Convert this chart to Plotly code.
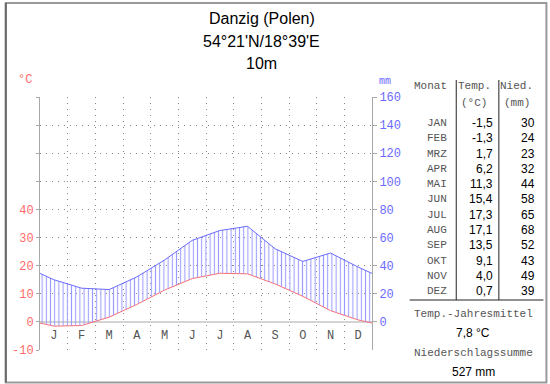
import plotly.graph_objects as go

# ---- data ----
months = ['J', 'F', 'M', 'A', 'M', 'J', 'J', 'A', 'S', 'O', 'N', 'D']
month_abbr = ['JAN', 'FEB', 'MRZ', 'APR', 'MAI', 'JUN', 'JUL', 'AUG', 'SEP', 'OKT', 'NOV', 'DEZ']
temp = [-1.5, -1.3, 1.7, 6.2, 11.3, 15.4, 17.3, 17.1, 13.5, 9.1, 4.0, 0.7]
precip = [30, 24, 23, 32, 44, 58, 65, 68, 52, 43, 49, 39]
temp_ticks = [-10, 0, 10, 20, 30, 40, 50, 60, 70, 80]
temp_ticktext = ['-10', '0', '10', '20', '30', '40', '', '', '', '']
precip_ticks = [0, 20, 40, 60, 80, 100, 120, 140, 160]
title_lines = ['Danzig (Polen)', "54°21'N/18°39'E", '10m']

W, H = 550, 384
L, R, T, B = 37, 372, 97, 350


def fx(x):
    return (x - L) / (R - L)


def fy(y):
    return (B - y) / (B - T)


# cyclic continuation (Dec before Jan, Jan after Dec), clipped by axis range
xc = [i + 0.5 for i in range(12)]
x_ext = [-0.5] + xc + [12.5]
temp_ext = [temp[-1]] + temp + [temp[0]]
precip_ext = [precip[-1]] + precip + [precip[0]]

RED = '#ff6b6b'
BLUE = '#6b6bff'
GRID = '#8a8a8a'
AX = '#a8a8a8'
MONO = 'Liberation Mono'
MONO_COL = '#555'

fig = go.Figure()

# hatch base: temperature on the precipitation scale (10 °C = 20 mm)
fig.add_trace(go.Scatter(x=x_ext, y=[t * 2 for t in temp_ext], yaxis='y2',
                         mode='lines', line=dict(width=0, color='rgba(0,0,0,0)'),
                         hoverinfo='skip', showlegend=False))
fig.add_trace(go.Scatter(x=x_ext, y=precip_ext, yaxis='y2', mode='lines',
                         line=dict(color=BLUE, width=1),
                         fill='tonexty', fillcolor='rgba(0,0,0,0)',
                         fillpattern=dict(shape='|', fgcolor='#9a9aff', bgcolor='rgba(0,0,0,0)',
                                          size=4.2, solidity=0.25, fgopacity=1),
                         showlegend=False))
fig.add_trace(go.Scatter(x=x_ext, y=temp_ext, yaxis='y', mode='lines',
                         line=dict(color=RED, width=1), showlegend=False))
# month labels
fig.add_trace(go.Scatter(x=xc, y=[-5] * 12, mode='text', text=months,
                         textfont=dict(family=MONO, size=12, color=MONO_COL),
                         showlegend=False, hoverinfo='skip'))

ann = []


def add_text(x, y, text, size=12, family='Liberation Sans', color='black', anchor='center'):
    if anchor == 'right':
        x += 3
    ann.append(dict(x=fx(x), y=fy(y), xref='paper', yref='paper', text=text,
                    showarrow=False, xanchor=anchor, yanchor='middle',
                    font=dict(family=family, size=size, color=color)))


for txt, yy in zip(title_lines, [18, 42, 63]):
    add_text(261, yy, txt, size=16)

add_text(22, 80, '°C', size=12, family=MONO, color=RED)
add_text(385, 82, 'mm', size=10, family=MONO, color=BLUE)

add_text(447, 86, 'Monat', size=11, family=MONO, color=MONO_COL, anchor='right')
add_text(475, 86, 'Temp.', size=11, family=MONO, color=MONO_COL)
add_text(475, 103, '(°C)', size=11, family=MONO, color=MONO_COL)
add_text(518, 86, 'Nied.', size=11, family=MONO, color=MONO_COL)
add_text(518, 103, '(mm)', size=11, family=MONO, color=MONO_COL)

for i in range(12):
    yy = 123 + 15.28 * i
    add_text(447, yy, month_abbr[i], size=11, family=MONO, color=MONO_COL, anchor='right')
    add_text(493, yy, f'{temp[i]:.1f}'.replace('.', ','), size=12, anchor='right')
    add_text(535, yy, str(precip[i]), size=12, anchor='right')

mean_t = sum(temp) / len(temp)
sum_p = sum(precip)
add_text(474, 314, 'Temp.-Jahresmittel', size=11, family=MONO, color=MONO_COL)
add_text(474, 333, f'{mean_t:.1f}'.replace('.', ',') + ' °C', size=12)
add_text(474, 353, 'Niederschlagssumme', size=11, family=MONO, color=MONO_COL)
add_text(474, 372, f'{sum_p} mm', size=12)

shapes = [
    # table lines
    dict(type='line', xref='paper', yref='paper', x0=fx(457), x1=fx(457), y0=fy(80), y1=fy(300),
         line=dict(color='#222', width=1)),
    dict(type='line', xref='paper', yref='paper', x0=fx(500), x1=fx(500), y0=fy(80), y1=fy(300),
         line=dict(color='#222', width=1)),
    dict(type='line', xref='paper', yref='paper', x0=fx(410), x1=fx(545), y0=fy(300), y1=fy(300),
         line=dict(color='#222', width=1)),
    # outer frame
    dict(type='rect', xref='paper', yref='paper', x0=fx(2.5), x1=fx(548), y0=fy(3), y1=fy(382.5),
         line=dict(color='#9a9a9a', width=2)),
    dict(type='line', xref='paper', yref='paper', x0=fx(2.5), x1=fx(2.5), y0=fy(3), y1=fy(382.5),
         line=dict(color='#6a6a6a', width=2)),
]

fig.update_layout(
    width=W, height=H,
    margin=dict(l=L, r=W - R, t=T, b=H - B, pad=0),
    paper_bgcolor='white', plot_bgcolor='white',
    showlegend=False,
    annotations=ann, shapes=shapes,
    xaxis=dict(range=[0, 12], tick0=0, dtick=1, tickmode='linear', showticklabels=False,
               ticks='', showgrid=True, gridcolor=GRID, griddash='1px,5px', gridwidth=1,
               zeroline=False, showline=False, fixedrange=True),
    yaxis=dict(range=[-10, 80], tickmode='array', tickvals=temp_ticks, ticktext=temp_ticktext,
               ticks='outside', ticklen=3, tickcolor=AX,
               tickfont=dict(family=MONO, size=12, color=RED),
               showgrid=True, gridcolor=GRID, griddash='1px,5px', gridwidth=1,
               zeroline=True, zerolinecolor='#d4d4d4', zerolinewidth=2,
               showline=True, linecolor=AX, linewidth=1),
    yaxis2=dict(range=[-20, 160], overlaying='y', side='right', tickmode='array',
                tickvals=precip_ticks, ticks='outside', ticklen=4, tickcolor=AX,
                tickfont=dict(family=MONO, size=12, color=BLUE),
                showgrid=False, zeroline=False, showline=True, linecolor=AX, linewidth=1),
)

fig.write_html('out.html')
